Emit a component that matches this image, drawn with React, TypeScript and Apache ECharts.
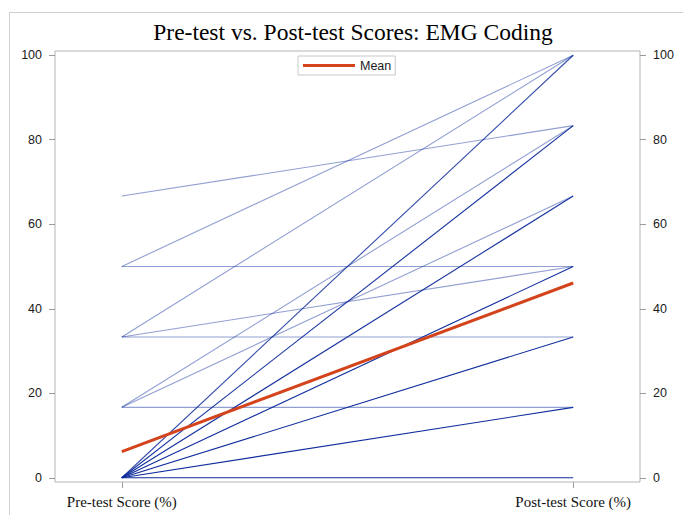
import React, { useEffect, useRef } from "react";
import * as echarts from "echarts";

// Each pair = one subject path (pre -> post); counts = number of subjects sharing it
const preScores = [0, 0, 0, 0, 0, 0, 0, 16.67, 16.67, 16.67, 33.33, 33.33, 33.33, 50, 50, 66.67];
const postScores = [0, 16.67, 33.33, 50, 66.67, 83.33, 100, 16.67, 66.67, 83.33, 33.33, 50, 100, 50, 100, 83.33];
const subjectCounts = [7, 7, 8, 7, 5, 5, 3, 1, 1, 1, 1, 1, 1, 1, 1, 1];
const meanScores = [6.2, 46.1];
const yTicks = [0, 20, 40, 60, 80, 100];
const xTickValues = [0, 1];
const xLabels = ["Pre-test Score (%)", "Post-test Score (%)"];

export default function App() {
  const ref = useRef<HTMLDivElement>(null);
  useEffect(() => {
    if (!ref.current) return;
    const chart = echarts.init(ref.current, undefined, { renderer: "svg" });
    const alpha = 0.45;
    const order = preScores.map((_, i) => i).sort((a, b) => subjectCounts[a] - subjectCounts[b]);
    const subjectSeries = order.map((i) => {
      const op = 1 - Math.pow(1 - alpha, subjectCounts[i]);
      return {
        type: "line",
        data: [
          [xTickValues[0], preScores[i]],
          [xTickValues[1], postScores[i]],
        ],
        symbol: "none",
        silent: true,
        yAxisIndex: 0,
        lineStyle: { color: `rgba(12,42,155,${op.toFixed(3)})`, width: 1.1 },
        z: 2,
      };
    });
    const axisTickStyle = { show: true, inside: false, lineStyle: { color: "#9a9a9a", width: 1 }, length: 6 };
    const yLabelStyle = { fontFamily: "Liberation Sans", fontSize: 12.5, color: "#1a1a1a", margin: 13 };
    chart.setOption({
      animation: false,
      backgroundColor: "#fff",
      title: {
        text: "Pre-test vs. Post-test Scores: EMG Coding",
        left: 348,
        top: 15,
        textAlign: "center",
        textStyle: { fontFamily: "Liberation Serif", fontSize: 23.5, fontWeight: "normal", color: "#000" },
      },
      legend: {
        data: ["Mean"],
        left: 298,
        top: 56,
        icon: "rect",
        borderColor: "#c8c8c8",
        borderWidth: 1,
        padding: [3, 4, 3, 5],
        itemWidth: 52,
        itemHeight: 3,
        textStyle: { fontFamily: "Liberation Sans", fontSize: 12.5, color: "#1a1a1a" },
      },
      graphic: [
        {
          type: "rect",
          shape: { x: 9.5, y: 12.5, width: 720, height: 620 },
          style: { fill: "none", stroke: "#cfcfcf", lineWidth: 1 },
          silent: true,
          z: -1,
        },
      ],
      grid: {
        left: 55,
        right: 43,
        top: 51,
        bottom: 33,
        show: true,
        borderColor: "#b4b4b4",
        borderWidth: 1,
        backgroundColor: "transparent",
      },
      xAxis: {
        type: "value",
        min: -0.148,
        max: 1.148,
        axisLine: { show: false, onZero: false },
        splitLine: { show: false },
        axisTick: { ...axisTickStyle, customValues: xTickValues },
        axisLabel: {
          customValues: xTickValues,
          formatter: (v: number) => xLabels[Math.round(v)] ?? "",
          fontFamily: "Liberation Serif",
          fontSize: 15,
          color: "#111",
          margin: 12,
        },
      },
      yAxis: [
        {
          type: "value",
          position: "left",
          min: -1,
          max: 101,
          axisLine: { show: false, onZero: false },
          splitLine: { show: false },
          axisTick: { ...axisTickStyle, customValues: yTicks },
          axisLabel: { ...yLabelStyle, customValues: yTicks },
        },
        {
          type: "value",
          position: "right",
          min: -1,
          max: 101,
          axisLine: { show: false, onZero: false },
          splitLine: { show: false },
          axisTick: { ...axisTickStyle, customValues: yTicks },
          axisLabel: { ...yLabelStyle, customValues: yTicks },
        },
      ],
      series: [
        ...subjectSeries,
        {
          name: "Mean",
          type: "line",
          data: [
            [xTickValues[0], meanScores[0]],
            [xTickValues[1], meanScores[1]],
          ],
          symbol: "none",
          silent: true,
          yAxisIndex: 0,
          lineStyle: { color: "#d4441c", width: 3 },
          itemStyle: { color: "#d4441c" },
          z: 5,
        },
      ],
    });
    return () => chart.dispose();
  }, []);
  return (
    <div
      ref={ref}
      style={{ position: "absolute", left: 0, top: 0, width: 683, height: 515 }}
    />
  );
}
